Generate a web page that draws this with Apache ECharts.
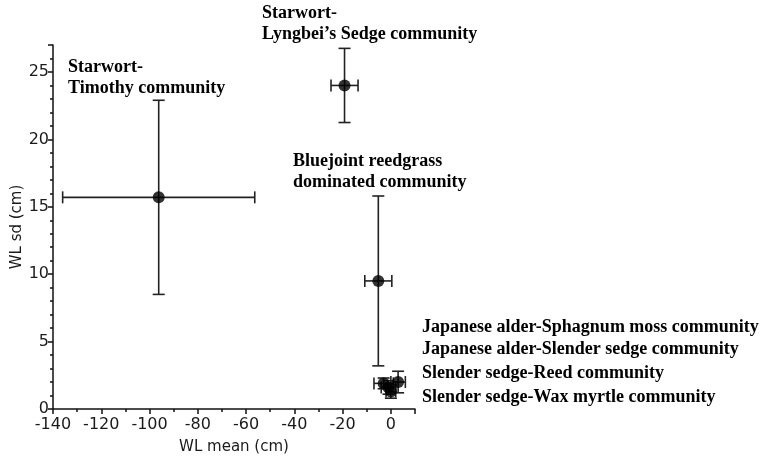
<!DOCTYPE html>
<html>
<head>
<meta charset="utf-8">
<script src="https://cdn.jsdelivr.net/npm/echarts@6/dist/echarts.min.js"></script>
<style>
  html, body { margin: 0; padding: 0; background: #fff; }
  #chart { width: 760px; height: 461px; }
</style>
</head>
<body>
<div id="chart"></div>
<script>
// Water-level statistics per plant community
const communities = [
  'Starwort-Timothy community',
  "Starwort-Lyngbei's Sedge community",
  'Bluejoint reedgrass dominated community',
  'Japanese alder-Sphagnum moss community',
  'Japanese alder-Slender sedge community',
  'Slender sedge-Reed community',
  'Slender sedge-Wax myrtle community'
];
const wlMean = [-96.2, -19.2, -5.2, -3.0, -1.0, 3.0, 0.0];
const wlSd = [15.7, 24.0, 9.5, 1.9, 1.6, 2.0, 1.3];
const wlMeanErr = [39.8, 5.6, 5.6, 4.0, 3.0, 3.0, 2.0];
const wlSdErr = [7.2, 2.75, 6.3, 0.4, 0.5, 0.8, 0.5];

const xTicks = [-140, -120, -100, -80, -60, -40, -20, 0];
const yTicks = [0, 5, 10, 15, 20, 25];

// Annotation text blocks (lines) and their anchor positions
const annotations = [
  { lines: ['Starwort-', 'Timothy community'], left: 68, top: 57 },
  { lines: ['Starwort-', "Lyngbei\u2019s Sedge community"], left: 262, top: 3 },
  { lines: ['Bluejoint reedgrass', 'dominated community'], left: 293, top: 151 },
  { lines: ['Japanese alder-Sphagnum moss community'], left: 422, top: 317 },
  { lines: ['Japanese alder-Slender sedge community'], left: 422, top: 339 },
  { lines: ['Slender sedge-Reed community'], left: 422, top: 363 },
  { lines: ['Slender sedge-Wax myrtle community'], left: 422, top: 387 }
];

const points = wlMean.map((m, i) => [m, wlSd[i], wlMeanErr[i], wlSdErr[i]]);

const chart = echarts.init(document.getElementById('chart'));

const nameFont = { fontFamily: 'DejaVu Sans', fontSize: 15, color: '#1a1a1a' };
const tickFont = { fontFamily: 'DejaVu Sans', fontSize: 16, color: '#1a1a1a' };
const axisStroke = { color: '#111', width: 1.5 };

chart.setOption({
  animation: false,
  backgroundColor: '#ffffff',
  grid: { left: 53, right: 345, top: 45, bottom: 52 },
  xAxis: {
    type: 'value',
    min: -140,
    max: 10,
    interval: 20,
    name: 'WL mean (cm)',
    nameLocation: 'middle',
    nameGap: 31,
    nameTextStyle: nameFont,
    axisLine: { onZero: false, lineStyle: axisStroke },
    axisTick: { show: true, length: 5, lineStyle: axisStroke },
    minorTick: { show: true, splitNumber: 2, length: 3, lineStyle: axisStroke },
    splitLine: { show: false },
    axisLabel: Object.assign({
      margin: 8,
      showMaxLabel: false,
      formatter: v => (xTicks.indexOf(v) >= 0 ? String(v) : '')
    }, tickFont)
  },
  yAxis: {
    type: 'value',
    min: 0,
    max: 27,
    interval: 5,
    name: 'WL sd (cm)',
    nameLocation: 'middle',
    nameGap: 21,
    nameRotate: 90,
    nameTextStyle: nameFont,
    axisLine: { onZero: false, lineStyle: axisStroke },
    axisTick: { show: true, length: 5, lineStyle: axisStroke },
    minorTick: { show: true, splitNumber: 5, length: 3, lineStyle: axisStroke },
    splitLine: { show: false },
    axisLabel: Object.assign({
      margin: 4,
      showMaxLabel: false,
      formatter: v => (yTicks.indexOf(v) >= 0 ? String(v) : '')
    }, tickFont)
  },
  series: [
    {
      // error bars in both directions with end caps
      type: 'custom',
      data: points,
      renderItem: function (params, api) {
        const x = api.value(0), y = api.value(1);
        const ex = api.value(2), ey = api.value(3);
        const c = api.coord([x, y]);
        const l = api.coord([x - ex, y]);
        const r = api.coord([x + ex, y]);
        const t = api.coord([x, y + ey]);
        const b = api.coord([x, y - ey]);
        const cap = 6;
        const style = { stroke: '#222', lineWidth: 1.6, fill: null };
        const line = (x1, y1, x2, y2) => ({
          type: 'line',
          shape: { x1, y1, x2, y2 },
          style
        });
        return {
          type: 'group',
          children: [
            line(l[0], c[1], r[0], c[1]),
            line(l[0], c[1] - cap, l[0], c[1] + cap),
            line(r[0], c[1] - cap, r[0], c[1] + cap),
            line(c[0], t[1], c[0], b[1]),
            line(c[0] - cap, t[1], c[0] + cap, t[1]),
            line(c[0] - cap, b[1], c[0] + cap, b[1])
          ]
        };
      },
      encode: { x: 0, y: 1 },
      z: 2
    },
    {
      type: 'scatter',
      data: points.map(p => [p[0], p[1]]),
      symbol: 'circle',
      symbolSize: 12,
      itemStyle: { color: '#000' },
      z: 3
    }
  ],
  graphic: annotations.map(a => ({
    type: 'text',
    left: a.left,
    top: a.top,
    style: {
      text: a.lines.join('\n'),
      font: 'bold 18px "Liberation Serif", "Times New Roman", serif',
      lineHeight: 21,
      fill: '#000'
    }
  }))
});
</script>
</body>
</html>
